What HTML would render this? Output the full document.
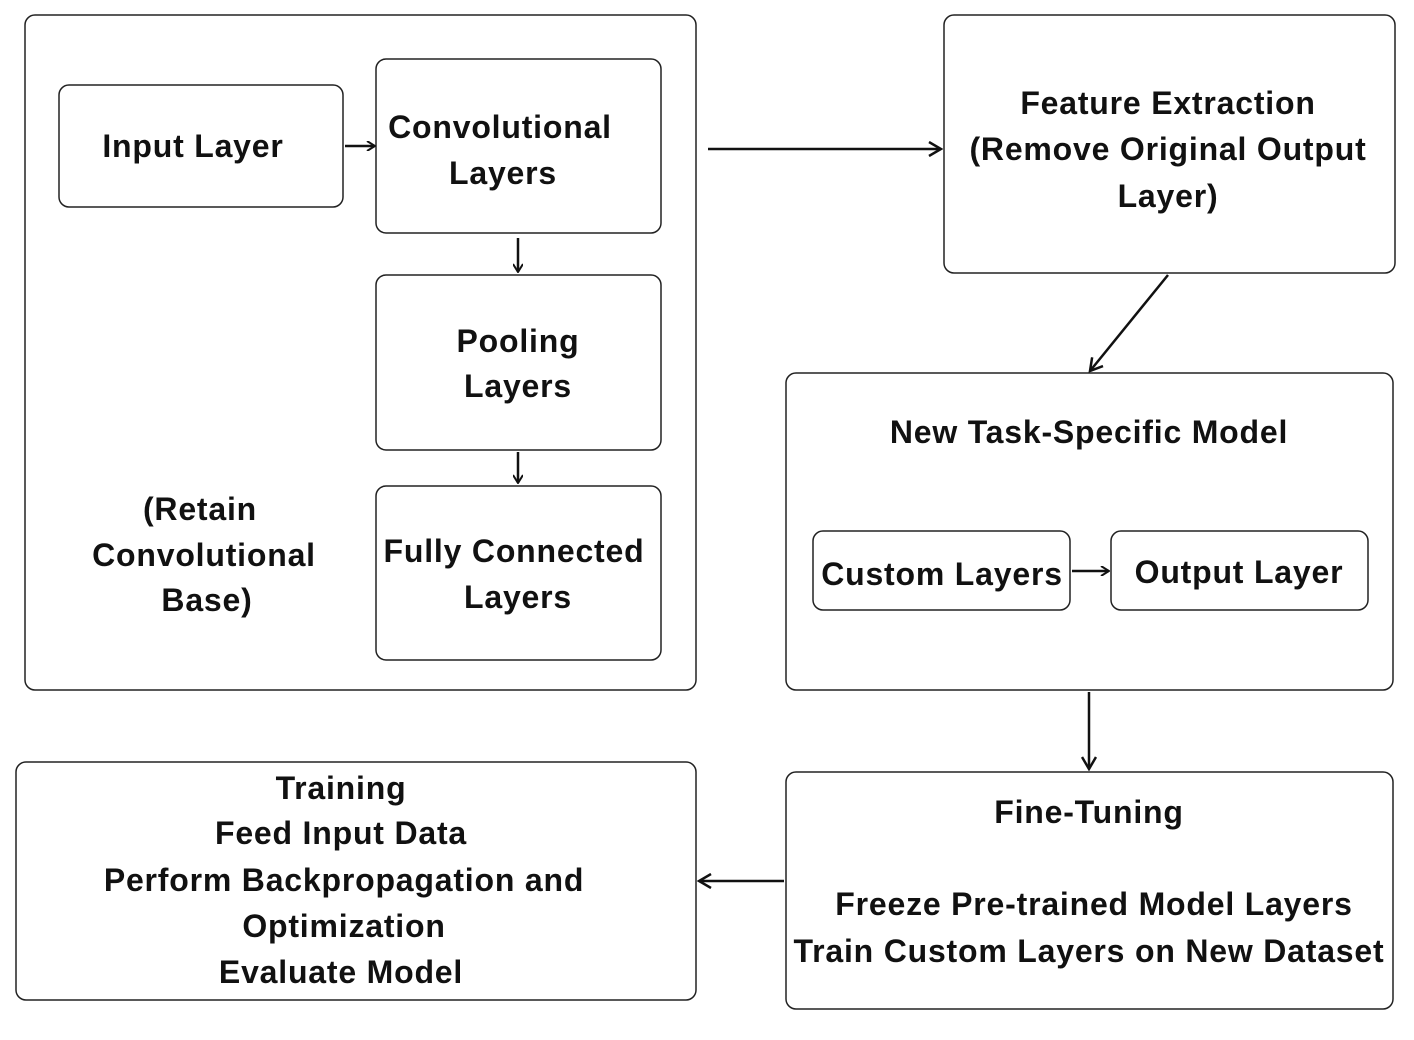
<!DOCTYPE html>
<html><head><meta charset="utf-8"><style>
html,body{margin:0;padding:0;background:#fff;}
svg text{font-family:"Liberation Sans",Arial,sans-serif;font-weight:bold;font-size:32px;letter-spacing:0.8px;fill:#111;text-anchor:middle;}
</style></head><body>
<svg width="1414" height="1035" viewBox="0 0 1414 1035" xmlns="http://www.w3.org/2000/svg">
<defs><marker id="a" markerWidth="10" markerHeight="10" refX="9" refY="5" orient="auto" markerUnits="userSpaceOnUse" viewBox="0 0 10 10"><path d="M1,0 L9,5 L1,10" fill="none" stroke="#111" stroke-width="2"/></marker>
<marker id="b" markerWidth="16" markerHeight="16" refX="14" refY="8" orient="auto" markerUnits="userSpaceOnUse" viewBox="0 0 16 16"><path d="M2,1 L14,8 L2,15" fill="none" stroke="#111" stroke-width="2.5"/></marker></defs>
<g fill="none" stroke="#222" stroke-width="1.5">
<rect x="25" y="15" width="671" height="675" rx="10"/>
<rect x="59" y="85" width="284" height="122" rx="10"/>
<rect x="376" y="59" width="285" height="174" rx="10"/>
<rect x="376" y="275" width="285" height="175" rx="10"/>
<rect x="376" y="486" width="285" height="174" rx="10"/>
<rect x="944" y="15" width="451" height="258" rx="10"/>
<rect x="786" y="373" width="607" height="317" rx="10"/>
<rect x="813" y="531" width="257" height="79" rx="10"/>
<rect x="1111" y="531" width="257" height="79" rx="10"/>
<rect x="786" y="772" width="607" height="237" rx="10"/>
<rect x="16" y="762" width="680" height="238" rx="10"/>
</g>
<g stroke="#111" stroke-width="2.5" fill="none">
<line x1="345" y1="146" x2="375" y2="146" marker-end="url(#a)"/>
<line x1="518" y1="238" x2="518" y2="272" marker-end="url(#a)"/>
<line x1="518" y1="452" x2="518" y2="483" marker-end="url(#a)"/>
<line x1="1072" y1="571" x2="1109" y2="571" marker-end="url(#a)"/>
<line x1="708" y1="149" x2="941" y2="149" marker-end="url(#b)"/>
<line x1="1168" y1="275" x2="1090" y2="371" marker-end="url(#b)"/>
<line x1="1089" y1="692" x2="1089" y2="769" marker-end="url(#b)"/>
<line x1="784" y1="881" x2="699" y2="881" marker-end="url(#b)"/>
</g>
<text x="193" y="157">Input Layer</text>
<text x="500" y="138">Convolutional</text>
<text x="503" y="184">Layers</text>
<text x="518" y="352">Pooling</text>
<text x="518" y="397">Layers</text>
<text x="514" y="562">Fully Connected</text>
<text x="518" y="608">Layers</text>
<text x="200" y="520">(Retain</text>
<text x="204" y="566">Convolutional</text>
<text x="207" y="611">Base)</text>
<text x="1168" y="114">Feature Extraction</text>
<text x="1168" y="160">(Remove Original Output</text>
<text x="1168" y="207">Layer)</text>
<text x="1089" y="443">New Task-Specific Model</text>
<text x="942" y="585">Custom Layers</text>
<text x="1239" y="583">Output Layer</text>
<text x="1089" y="823">Fine-Tuning</text>
<text x="1094" y="915">Freeze Pre-trained Model Layers</text>
<text x="1089" y="962">Train Custom Layers on New Dataset</text>
<text x="341" y="799">Training</text>
<text x="341" y="844">Feed Input Data</text>
<text x="344" y="891">Perform Backpropagation and</text>
<text x="344" y="937">Optimization</text>
<text x="341" y="983">Evaluate Model</text>
</svg>
</body></html>
